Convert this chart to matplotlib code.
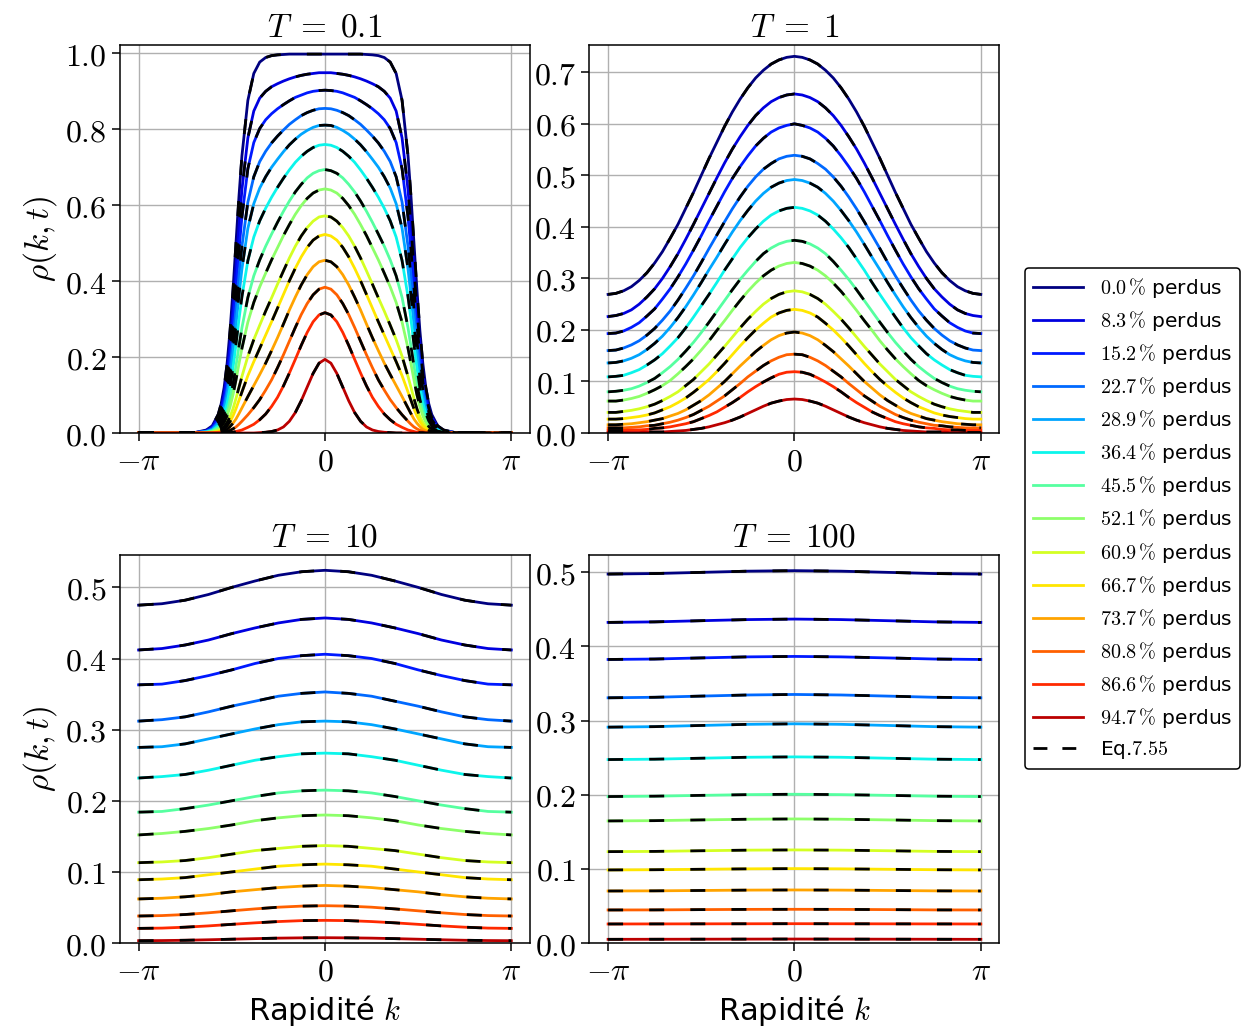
import numpy as np
import matplotlib
matplotlib.use("Agg")
import matplotlib.pyplot as plt
from matplotlib.lines import Line2D

plt.rcParams["mathtext.fontset"] = "cm"
plt.rcParams["font.family"] = ["DejaVu Sans"]

# fraction of atoms lost for each curve (legend)
losses = [0.0, 8.3, 15.2, 22.7, 28.9, 36.4, 45.5, 52.1, 60.9, 66.7, 73.7, 80.8, 86.6, 94.7]

# curves are symmetric in k: values are given for k in [0, pi]
k_T01 = [0, 0.1, 0.2, 0.3, 0.4, 0.5, 0.6, 0.7, 0.8, 0.9, 1.0, 1.1, 1.2, 1.3, 1.4,
         1.45, 1.5, 1.55, 1.6, 1.65, 1.7, 1.75, 1.8, 1.9, 2.0, 2.2, 2.6, np.pi]
rho_T01 = [
    [.998, .998, .998, .998, .998, .998, .998, .997, .996, .994, .989, .977, .947, .876, .730,
     .623, .501, .378, .270, .183, .120, .077, .049, .019, .008, .001, 0, 0],
    [.949, .949, .947, .945, .942, .938, .933, .927, .920, .912, .900, .882, .848, .777, .641,
     .545, .436, .328, .233, .157, .103, .065, .041, .016, .006, .001, 0, 0],
    [.903, .902, .900, .896, .890, .884, .875, .865, .854, .841, .825, .802, .765, .696, .569,
     .482, .384, .287, .203, .137, .089, .056, .035, .014, .005, .001, 0, 0],
    [.855, .854, .850, .844, .836, .825, .813, .798, .782, .764, .742, .715, .675, .608, .492,
     .414, .328, .244, .172, .115, .074, .047, .029, .011, .004, .001, 0, 0],
    [.811, .810, .805, .797, .787, .774, .759, .741, .721, .700, .675, .645, .604, .539, .432,
     .362, .286, .212, .148, .099, .064, .040, .025, .009, .004, .001, 0, 0],
    [.760, .758, .752, .742, .729, .713, .693, .671, .647, .621, .592, .559, .516, .454, .359,
     .299, .234, .172, .120, .079, .051, .032, .019, .007, .003, 0, 0, 0],
    [.694, .691, .684, .672, .655, .635, .611, .584, .555, .524, .492, .456, .414, .357, .277,
     .228, .177, .129, .089, .058, .037, .023, .014, .005, .002, 0, 0, 0],
    [.643, .640, .632, .618, .599, .576, .549, .520, .488, .456, .421, .385, .344, .292, .223,
     .182, .140, .101, .069, .045, .028, .017, .010, .004, .001, 0, 0, 0],
    [.572, .569, .558, .541, .519, .492, .461, .427, .392, .356, .321, .284, .246, .202, .149,
     .120, .091, .064, .043, .028, .017, .010, .006, .002, .001, 0, 0, 0],
    [.523, .519, .508, .489, .464, .434, .401, .365, .329, .293, .258, .223, .188, .151, .108,
     .086, .064, .045, .030, .019, .011, .007, .004, .001, 0, 0, 0, 0],
    [.455, .451, .438, .417, .390, .358, .324, .287, .251, .217, .184, .154, .125, .096, .066,
     .051, .037, .026, .017, .010, .006, .004, .002, .001, 0, 0, 0, 0],
    [.384, .379, .364, .341, .312, .278, .242, .206, .172, .140, .113, .088, .067, .048, .031,
     .023, .016, .011, .007, .004, .002, .001, .001, 0, 0, 0, 0, 0],
    [.317, .311, .293, .265, .231, .194, .158, .124, .094, .070, .050, .035, .023, .015, .008,
     .006, .004, .002, .001, .001, 0, 0, 0, 0, 0, 0, 0, 0],
    [.194, .184, .157, .121, .085, .054, .031, .016, .008, .004, .002, .001, 0, 0, 0,
     0, 0, 0, 0, 0, 0, 0, 0, 0, 0, 0, 0, 0],
]

k_T1 = [0, 0.1309, 0.2618, 0.3927, 0.5236, 0.6545, 0.7854, 0.9163, 1.0472, 1.1781, 1.3090,
        1.4399, 1.5708, 1.7017, 1.8326, 1.9635, 2.0944, 2.2253, 2.3562, 2.4871, 2.6180,
        2.7489, 2.8798, 3.0107, np.pi]
rho_T1 = [
    [0.731, 0.729, 0.724, 0.716, 0.704, 0.689, 0.670, 0.648, 0.623, 0.595, 0.564, 0.533, 0.500,
     0.467, 0.436, 0.405, 0.378, 0.352, 0.330, 0.311, 0.296, 0.284, 0.276, 0.271, 0.269],
    [0.658, 0.656, 0.651, 0.643, 0.631, 0.616, 0.597, 0.575, 0.551, 0.524, 0.495, 0.465, 0.435,
     0.405, 0.376, 0.348, 0.323, 0.300, 0.280, 0.264, 0.250, 0.239, 0.232, 0.228, 0.226],
    [0.600, 0.597, 0.592, 0.584, 0.572, 0.557, 0.538, 0.517, 0.494, 0.468, 0.440, 0.412, 0.383,
     0.355, 0.328, 0.303, 0.280, 0.260, 0.241, 0.227, 0.214, 0.205, 0.198, 0.194, 0.193],
    [0.539, 0.537, 0.532, 0.523, 0.512, 0.497, 0.479, 0.458, 0.435, 0.410, 0.384, 0.358, 0.331,
     0.305, 0.281, 0.258, 0.237, 0.219, 0.203, 0.190, 0.179, 0.171, 0.165, 0.161, 0.160],
    [0.492, 0.490, 0.485, 0.477, 0.465, 0.450, 0.432, 0.412, 0.390, 0.366, 0.341, 0.317, 0.292,
     0.268, 0.245, 0.224, 0.205, 0.188, 0.174, 0.162, 0.152, 0.145, 0.140, 0.137, 0.136],
    [0.438, 0.436, 0.431, 0.423, 0.411, 0.396, 0.379, 0.360, 0.338, 0.316, 0.292, 0.269, 0.247,
     0.225, 0.204, 0.185, 0.169, 0.154, 0.142, 0.132, 0.123, 0.117, 0.112, 0.110, 0.109],
    [0.374, 0.372, 0.367, 0.359, 0.348, 0.333, 0.316, 0.298, 0.278, 0.257, 0.236, 0.215, 0.195,
     0.176, 0.159, 0.143, 0.129, 0.117, 0.106, 0.098, 0.091, 0.086, 0.083, 0.081, 0.080],
    [0.331, 0.329, 0.324, 0.316, 0.305, 0.291, 0.275, 0.257, 0.238, 0.218, 0.199, 0.179, 0.161,
     0.144, 0.129, 0.115, 0.102, 0.092, 0.084, 0.077, 0.071, 0.067, 0.064, 0.062, 0.062],
    [0.276, 0.274, 0.269, 0.261, 0.250, 0.236, 0.221, 0.204, 0.186, 0.168, 0.151, 0.134, 0.119,
     0.104, 0.092, 0.080, 0.071, 0.063, 0.056, 0.051, 0.047, 0.044, 0.042, 0.040, 0.040],
    [0.240, 0.238, 0.233, 0.225, 0.213, 0.200, 0.185, 0.169, 0.152, 0.135, 0.119, 0.104, 0.091,
     0.079, 0.068, 0.059, 0.051, 0.045, 0.039, 0.035, 0.032, 0.030, 0.028, 0.027, 0.027],
    [0.196, 0.194, 0.189, 0.181, 0.170, 0.158, 0.144, 0.130, 0.115, 0.100, 0.087, 0.074, 0.063,
     0.054, 0.045, 0.038, 0.033, 0.028, 0.025, 0.022, 0.020, 0.018, 0.017, 0.016, 0.016],
    [0.153, 0.152, 0.147, 0.140, 0.131, 0.120, 0.109, 0.096, 0.084, 0.072, 0.062, 0.052, 0.044,
     0.036, 0.030, 0.025, 0.021, 0.018, 0.015, 0.014, 0.012, 0.011, 0.010, 0.010, 0.010],
    [0.119, 0.118, 0.114, 0.107, 0.099, 0.090, 0.080, 0.069, 0.059, 0.050, 0.041, 0.034, 0.028,
     0.022, 0.018, 0.015, 0.012, 0.010, 0.009, 0.007, 0.006, 0.006, 0.005, 0.005, 0.005],
    [0.066, 0.065, 0.062, 0.058, 0.052, 0.045, 0.038, 0.031, 0.025, 0.020, 0.016, 0.012, 0.009,
     0.007, 0.005, 0.004, 0.003, 0.002, 0.002, 0.002, 0.001, 0.001, 0.001, 0.001, 0.001],
]

k_T10 = [0, 0.3927, 0.7854, 1.1781, 1.5708, 1.9635, 2.3562, 2.7489, np.pi]
rho_T10 = [
    [.524, .522, .517, .509, .500, .490, .482, .477, .475],
    [.457, .455, .450, .443, .435, .426, .419, .414, .412],
    [.406, .404, .400, .393, .384, .376, .369, .364, .363],
    [.353, .351, .347, .340, .333, .325, .318, .314, .312],
    [.312, .311, .307, .301, .294, .287, .280, .276, .275],
    [.267, .266, .262, .257, .250, .243, .237, .234, .232],
    [.215, .214, .211, .206, .200, .194, .189, .185, .184],
    [.180, .179, .176, .172, .166, .161, .157, .154, .152],
    [.137, .136, .133, .130, .125, .120, .116, .114, .113],
    [.111, .110, .108, .104, .100, .096, .092, .090, .089],
    [.081, .080, .078, .075, .072, .068, .065, .063, .062],
    [.0525, .0519, .0504, .0480, .0453, .0425, .0401, .0386, .0380],
    [.0319, .0315, .0302, .0284, .0263, .0241, .0223, .0210, .0206],
    [.0075, .0073, .0069, .0062, .0054, .0046, .0039, .0035, .0033],
]

k_T100 = [0, 0.7854, 1.5708, 2.3562, np.pi]
rho_T100 = [
    [.5023, .5016, .5000, .4984, .4977],
    [.4370, .4363, .4348, .4332, .4325],
    [.3866, .3860, .3846, .3831, .3825],
    [.3353, .3346, .3331, .3315, .3308],
    [.2957, .2950, .2935, .2919, .2912],
    [.2511, .2506, .2493, .2480, .2475],
    [.2007, .2002, .1992, .1981, .1976],
    [.1674, .1670, .1661, .1651, .1647],
    [.1256, .1253, .1245, .1236, .1233],
    [.1004, .1001, .0995, .0989, .0986],
    [.0716, .0714, .0709, .0704, .0702],
    [.0455, .0454, .0451, .0447, .0446],
    [.0261, .0260, .0259, .0258, .0257],
    [.0054, .0053, .0052, .0051, .0050],
]

# colour of each curve follows the lost fraction
colors = plt.cm.jet(np.array(losses) / 100)
FS = 23


def mirror(k_half, r_half):
    k = np.asarray(k_half, dtype=float)
    r = np.asarray(r_half, dtype=float)
    return np.concatenate([-k[::-1], k[1:]]), np.concatenate([r[::-1], r[1:]])


def plot_panel(ax, k_half, rho, title, ylim, yticks):
    for i, r_half in enumerate(rho):
        k, r = mirror(k_half, r_half)
        ax.plot(k, r, color=colors[i], lw=2.0, zorder=2)
        ax.plot(k, r, color="k", lw=2.0, ls=(0, (5.4, 9.4)), zorder=3)
    ax.set_ylim(*ylim)
    ax.set_xticks([-np.pi, 0, np.pi])
    ax.set_xticklabels([r"$-\pi$", r"$0$", r"$\pi$"], fontsize=FS)
    ax.set_yticks(yticks)
    ax.set_yticklabels([r"$%.1f$" % v for v in yticks], fontsize=FS)
    ax.tick_params(length=6, width=1.1)
    ax.grid(True, color="#b0b0b0", lw=1.0)
    ax.set_axisbelow(True)
    for s in ax.spines.values():
        s.set_linewidth(1.1)
    ax.set_title(title, fontsize=FS + 1)


fig = plt.figure(figsize=(12.42, 10.32), dpi=100)
ax1 = fig.add_axes([0.0966, 0.5804, 0.3301, 0.3760])
ax2 = fig.add_axes([0.4746, 0.5804, 0.3301, 0.3760])
ax3 = fig.add_axes([0.0966, 0.0862, 0.3301, 0.3760])
ax4 = fig.add_axes([0.4746, 0.0862, 0.3301, 0.3760])

plot_panel(ax1, k_T01, rho_T01, r"$T\;=\;0.1$", (0, 1.022), [0, 0.2, 0.4, 0.6, 0.8, 1.0])
plot_panel(ax2, k_T1, rho_T1, r"$T\;=\;1$", (0, 0.753), [0, 0.1, 0.2, 0.3, 0.4, 0.5, 0.6, 0.7])
plot_panel(ax3, k_T10, rho_T10, r"$T\;=\;10$", (0, 0.5455), [0, 0.1, 0.2, 0.3, 0.4, 0.5])
plot_panel(ax4, k_T100, rho_T100, r"$T\;=\;100$", (0, 0.5234), [0, 0.1, 0.2, 0.3, 0.4, 0.5])

for ax in (ax1, ax3):
    ax.set_ylabel(r"$\rho(k,t)$", fontsize=FS + 1)
for ax in (ax3, ax4):
    ax.set_xlabel(r"Rapidité $k$", fontsize=FS - 1)

handles = [Line2D([], [], color=colors[i], lw=2.0) for i in range(len(losses))]
labels = [r"$%.1f\,\%%$ perdus" % p for p in losses]
handles.append(Line2D([], [], color="k", lw=2.0, ls=(0, (5.0, 5.4))))
labels.append(r"Eq.$7.55$")
leg = fig.legend(handles, labels, loc="upper left", bbox_to_anchor=(1025 / 1242, 1 - 268 / 1032),
                 borderaxespad=0, fontsize=14.5, handlelength=2.5, labelspacing=0.45,
                 framealpha=1, fancybox=True)
leg.get_frame().set_edgecolor("k")
leg.get_frame().set_linewidth(1.1)

fig.savefig("out.png", dpi=100)
